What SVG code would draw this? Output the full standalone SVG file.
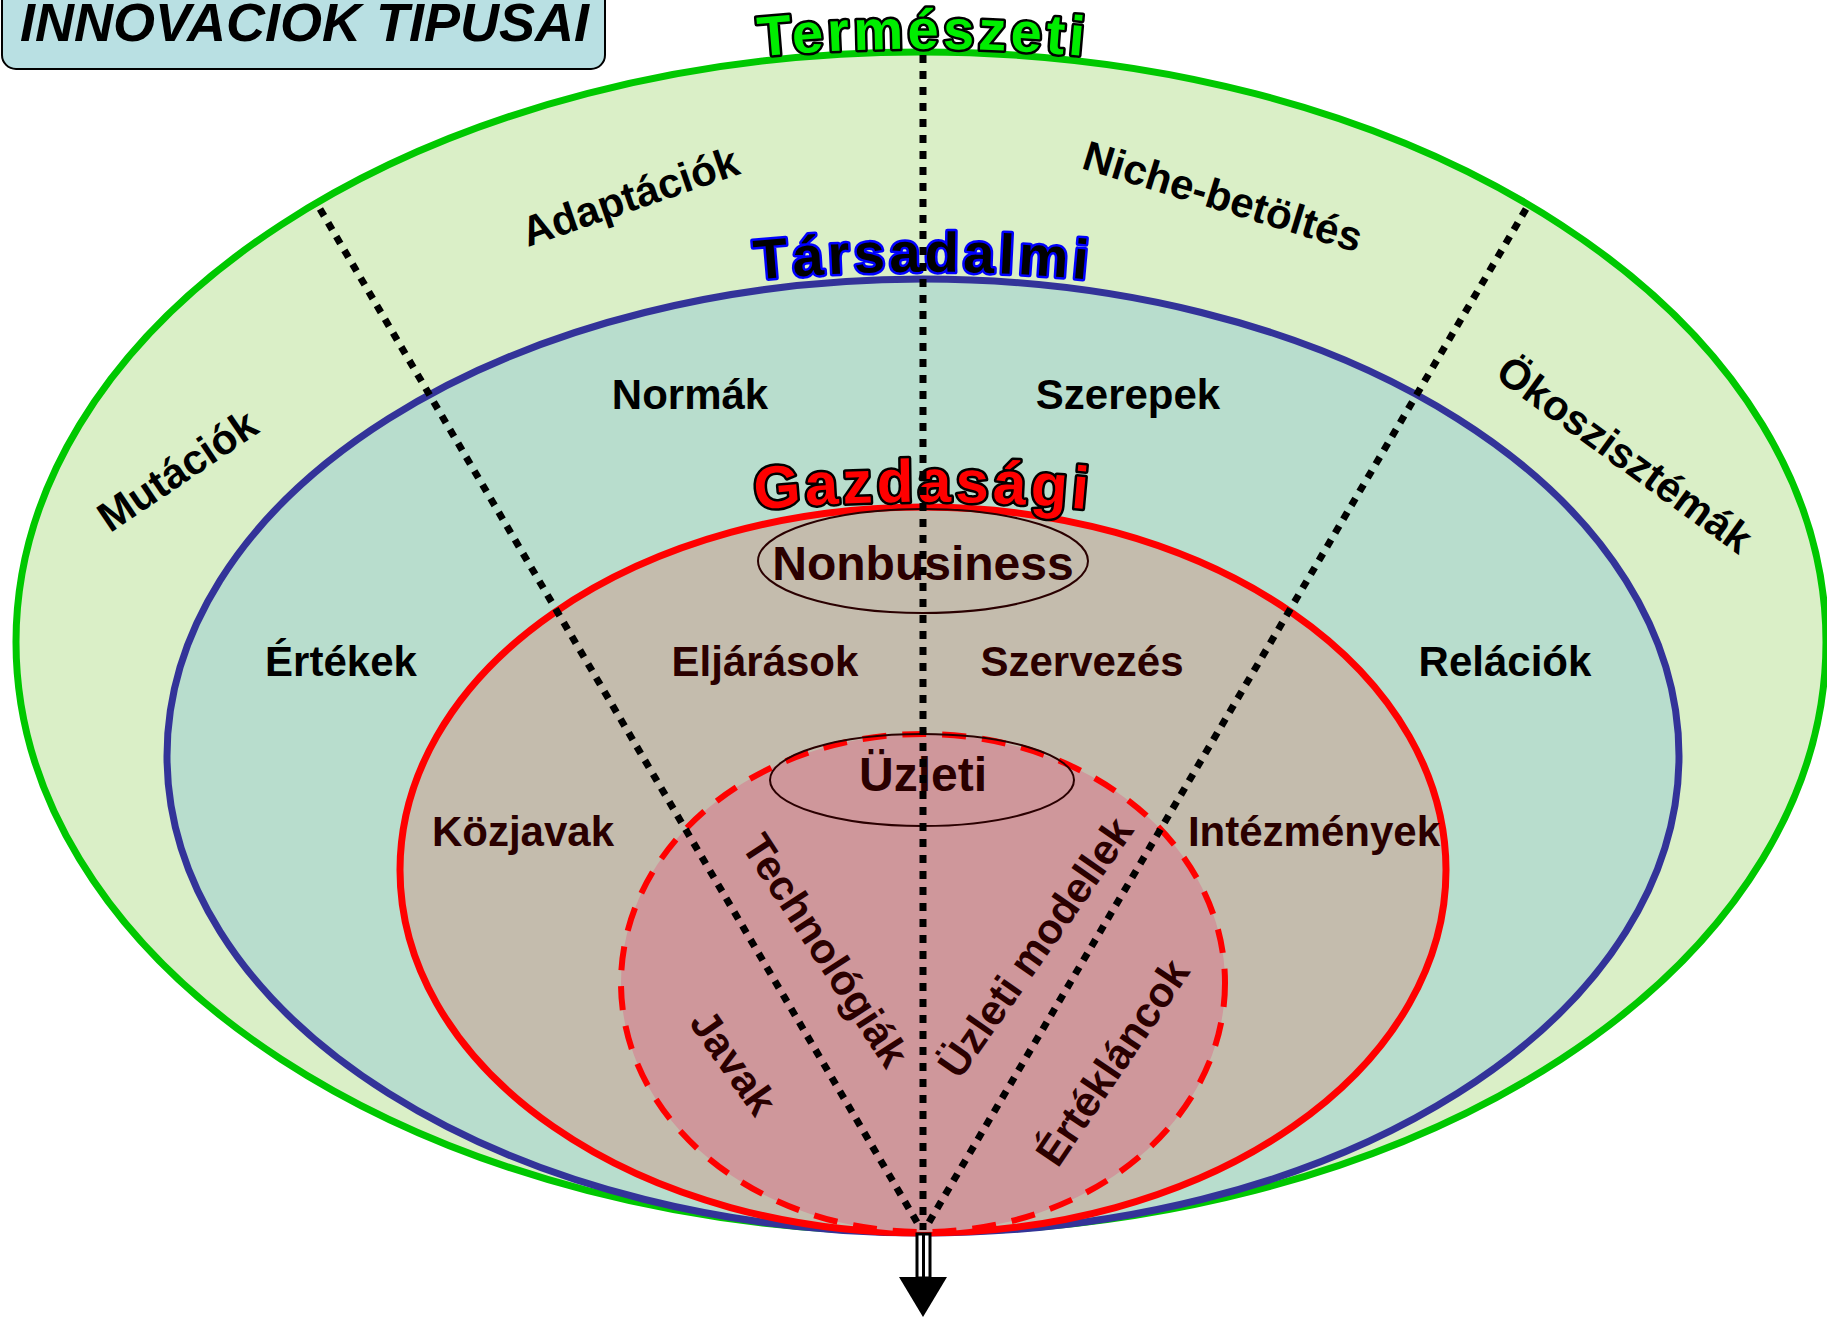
<svg xmlns="http://www.w3.org/2000/svg" width="1827" height="1317" viewBox="0 0 1827 1317">
<style>
.lbl{font-family:"Liberation Sans",Arial,sans-serif;font-weight:bold;font-size:42px;fill:#000;text-anchor:middle}
.dk{fill:#2a0000}
.big{font-size:48px}
.head{font-family:"Liberation Sans",Arial,sans-serif;font-weight:bold;letter-spacing:4px;paint-order:stroke;stroke-linejoin:round}
.dot{fill:none;stroke:#000;stroke-width:7;stroke-dasharray:8 8}
.ring{stroke-width:7}
</style>
<defs>
<path id="arcT" d="M 680,65.5 A 1768 1768 0 0 1 1166,65.5"/>
<path id="arcS" d="M 680,288.5 A 1768 1768 0 0 1 1166,288.5"/>
<path id="arcG" d="M 680,518.5 A 1768 1768 0 0 1 1166,518.5"/>
</defs>
<rect width="1827" height="1317" fill="#fff"/>

<g id="termeszeti">
<ellipse cx="921" cy="642" rx="905" ry="590" fill="#daefc7" stroke="#00c800" class="ring"/>
</g>
<g id="tarsadalmi">
<ellipse cx="923" cy="756" rx="756" ry="477" fill="#b8ddcd" stroke="#333399" class="ring"/>
</g>
<g id="gazdasagi">
<ellipse cx="923" cy="870" rx="523" ry="363" fill="#c4bcad" stroke="#ff0000" class="ring"/>
</g>
<g id="uzleti-zone">
<ellipse cx="923" cy="983" rx="302" ry="249" fill="#cf979b" stroke="#ff0000" stroke-width="6" stroke-dasharray="24 16"/>
</g>
<g id="nonbusiness">
<ellipse cx="923" cy="561" rx="165" ry="52" fill="none" stroke="#2a0000" stroke-width="2"/>
<text class="lbl dk big" x="923" y="580">Nonbusiness</text>
</g>
<g id="uzleti">
<ellipse cx="922" cy="780" rx="152" ry="46" fill="none" stroke="#2a0000" stroke-width="2"/>
<text class="lbl dk big" x="923" y="791">Üzleti</text>
</g>

<g id="title">
<rect x="2" y="-20" width="603" height="89" rx="14" fill="#b9e0e3" stroke="#000" stroke-width="2"/>
<text x="20" y="41" font-family="Liberation Sans, Arial, sans-serif" font-weight="bold" font-style="italic" font-size="54" fill="#000">INNOVACIOK TIPUSAI</text>
</g>

<g id="labels">
<text class="lbl" transform="translate(630,196) rotate(-19)" y="15">Adaptációk</text>
<text class="lbl" transform="translate(1223,196) rotate(17)" y="15">Niche-betöltés</text>
<text class="lbl" transform="translate(177,470) rotate(-34)" y="15">Mutációk</text>
<text class="lbl" transform="translate(1625,454) rotate(36)" y="15">Ökoszisztémák</text>
<text class="lbl" x="690" y="409">Normák</text>
<text class="lbl" x="1128" y="409">Szerepek</text>
<text class="lbl" x="341" y="676">Értékek</text>
<text class="lbl" x="1505" y="676">Relációk</text>
<text class="lbl dk" x="765" y="676">Eljárások</text>
<text class="lbl dk" x="1082" y="676">Szervezés</text>
<text class="lbl dk" x="523" y="846">Közjavak</text>
<text class="lbl dk" x="1314" y="846">Intézmények</text>
<text class="lbl dk" transform="translate(826,950) rotate(57)" y="15">Technológiák</text>
<text class="lbl dk" transform="translate(734,1062) rotate(55)" y="15">Javak</text>
<text class="lbl dk" transform="translate(1035,947) rotate(-55)" y="15">Üzleti modellek</text>
<text class="lbl dk" transform="translate(1112,1062) rotate(-56)" y="15">Értékláncok</text>
</g>

<g id="headings">
<text class="head" font-size="56" fill="#00ee00" stroke="#000" stroke-width="5"><textPath href="#arcT" startOffset="50%" text-anchor="middle">Természeti</textPath></text>
<text class="head" font-size="56" fill="#000" stroke="#0000ff" stroke-width="5"><textPath href="#arcS" startOffset="50%" text-anchor="middle">Társadalmi</textPath></text>
<text class="head" font-size="60" fill="#ff0000" stroke="#000" stroke-width="5"><textPath href="#arcG" startOffset="50%" text-anchor="middle">Gazdasági</textPath></text>
</g>

<g id="connectors">
<line class="dot" x1="923" y1="55" x2="923" y2="1230"/>
<line class="dot" x1="320" y1="209" x2="921" y2="1229"/>
<line class="dot" x1="1526" y1="209" x2="925" y2="1229"/>
<rect x="917" y="1234" width="13" height="44" fill="#fff" stroke="#000" stroke-width="3"/>
<line x1="923.5" y1="1234" x2="923.5" y2="1278" stroke="#000" stroke-width="3"/>
<polygon points="899,1277 947,1277 923,1317" fill="#000"/>
</g>
</svg>
